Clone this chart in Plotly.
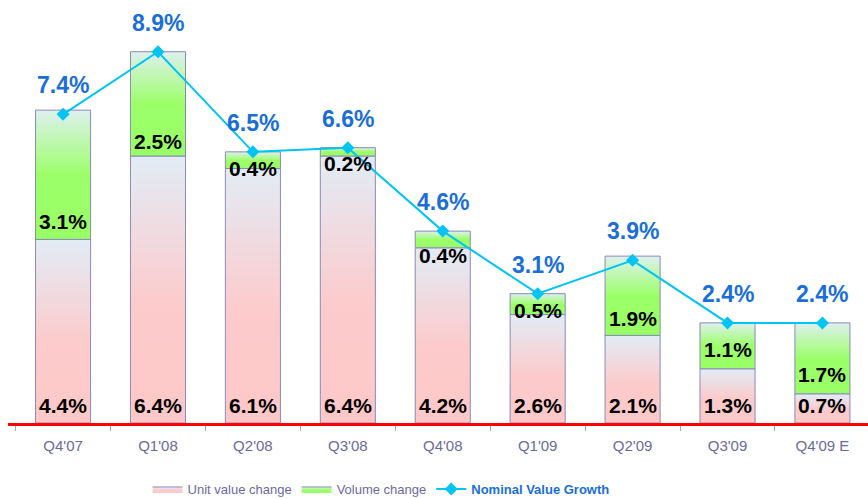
import plotly.graph_objects as go

categories = ["Q4'07", "Q1'08", "Q2'08", "Q3'08", "Q4'08", "Q1'09", "Q2'09", "Q3'09", "Q4'09 E"]
unit_value = [4.4, 6.4, 6.1, 6.4, 4.2, 2.6, 2.1, 1.3, 0.7]
volume = [3.1, 2.5, 0.4, 0.2, 0.4, 0.5, 1.9, 1.1, 1.7]
nominal = [7.4, 8.9, 6.5, 6.6, 4.6, 3.1, 3.9, 2.4, 2.4]

# style settings
BAR_W = 0.58
OUTLINE = "#8a8ab8"
PINK_SCALE = [[0, "#ffc8c8"], [0.45, "#fccbcc"], [1, "#e2ecf6"]]
GREEN_SCALE = [[0, "#99ff66"], [0.5, "#9cff6a"], [1, "#def0ee"]]
LINE_COLOR = "#00c4f4"
LABEL_BLUE = "#1a6ed8"
AXIS_TEXT = "#6b6b9b"
FONT = "Arial, Liberation Sans, sans-serif"
unit_label_shift = [18] * len(categories)
volume_label_shift = [18, 15, 0, -7, -8, 4, 17, 19, 19]
nominal_label_shift = 29

fig = go.Figure()


def add_segment(i, base, height, scale, name, show):
    x0, x1 = i - BAR_W / 2, i + BAR_W / 2
    top = base + height
    fig.add_trace(go.Scatter(
        x=[x0, x1, x1, x0, x0],
        y=[base, base, top, top, base],
        mode="lines",
        fill="toself",
        fillgradient=dict(type="vertical", colorscale=scale),
        line=dict(color=OUTLINE, width=1),
        name=name,
        legendgroup=name,
        showlegend=show,
        hoverinfo="skip",
    ))


for i, v in enumerate(unit_value):
    add_segment(i, 0, v, PINK_SCALE, "Unit value change", i == 0)
for i, v in enumerate(volume):
    add_segment(i, unit_value[i], v, GREEN_SCALE, "Volume change", i == 0)

xs = list(range(len(categories)))
fig.add_trace(go.Scatter(
    x=xs, y=nominal, mode="lines+markers",
    line=dict(color=LINE_COLOR, width=2),
    marker=dict(symbol="diamond", size=10, color=LINE_COLOR),
    name=f'<span style="color:{LABEL_BLUE}"><b>Nominal Value Growth</b></span>',
    hoverinfo="skip",
))

annotations = []
for i in xs:
    annotations.append(dict(
        x=i, y=0, text=f"{unit_value[i]:.1f}%", showarrow=False,
        yanchor="middle", yshift=unit_label_shift[i],
        font=dict(family=FONT, size=21, color="black", weight="bold"),
    ))
    annotations.append(dict(
        x=i, y=unit_value[i], text=f"{volume[i]:.1f}%", showarrow=False,
        yanchor="middle", yshift=volume_label_shift[i],
        font=dict(family=FONT, size=21, color="black", weight="bold"),
    ))
    annotations.append(dict(
        x=i, y=nominal[i], text=f"{nominal[i]:.1f}%", showarrow=False,
        yanchor="middle", yshift=nominal_label_shift,
        font=dict(family=FONT, size=23, color=LABEL_BLUE, weight="bold"),
    ))

fig.update_layout(
    width=868, height=499,
    margin=dict(l=8, r=0, t=0, b=76, autoexpand=False),
    paper_bgcolor="white", plot_bgcolor="white",
    font=dict(family=FONT, color=AXIS_TEXT, size=13),
    annotations=annotations,
    legend=dict(
        orientation="h", x=0.170, xref="container", y=0.02, yref="container",
        xanchor="left", yanchor="middle",
        font=dict(family=FONT, size=13, color=AXIS_TEXT),
        traceorder="normal",
    ),
    xaxis=dict(
        range=[-0.58, 8.48], automargin=False,
        tickmode="array", tickvals=xs, ticktext=categories,
        ticks="", showgrid=False, zeroline=False,
        showline=True, linecolor="#ff0000", linewidth=3,
        tickfont=dict(family=FONT, size=15, color=AXIS_TEXT),
        minor=dict(tickmode="linear", tick0=-0.5, dtick=1, ticks="outside",
                   ticklen=5, tickcolor="#aaaaaa", tickwidth=1, showgrid=False),
        ticklabelstandoff=7,
    ),
    yaxis=dict(
        range=[0, 10.14], visible=False, showgrid=False, zeroline=False,
        automargin=False,
    ),
)

fig.write_html("out.html", config={"displayModeBar": False},
               post_script="document.body.style.margin='0';")
